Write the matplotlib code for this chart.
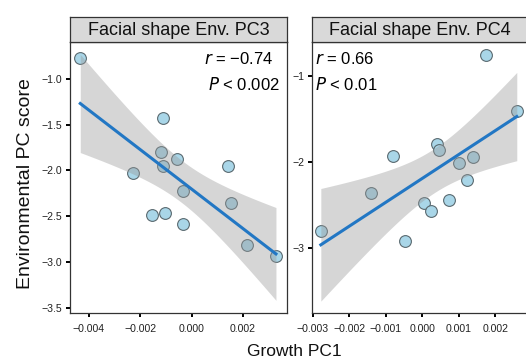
import numpy as np
import matplotlib
matplotlib.use("Agg")
import matplotlib.pyplot as plt
from matplotlib.ticker import FixedLocator, FixedFormatter

plt.rcParams["font.family"] = ["Liberation Sans", "DejaVu Sans"]

# Growth PC1 vs environmental PC scores
pc3_growth = [-0.00434, -0.00111, -0.00120, -0.00058, -0.00111, 0.00140, -0.00230,
              -0.00034, 0.00152, -0.00155, -0.00104, -0.00035, 0.00214, 0.00328]
pc3_env = [-0.77, -1.43, -1.80, -1.88, -1.95, -1.95, -2.03,
           -2.22, -2.36, -2.49, -2.46, -2.58, -2.81, -2.93]

pc4_growth = [0.00176, 0.00259, 0.00039, 0.00046, -0.00081, 0.00138, 0.00101,
              0.00123, -0.00141, 0.00004, 0.00023, 0.00073, -0.00278, -0.00047]
pc4_env = [-0.76, -1.41, -1.79, -1.86, -1.93, -1.94, -2.02,
           -2.21, -2.36, -2.48, -2.57, -2.45, -2.81, -2.92]

panel_titles = ["Facial shape Env. PC3", "Facial shape Env. PC4"]
r_labels = ["$r$ = \u22120.74", "$r$ = 0.66"]
p_labels = ["$P$ < 0.002", "$P$ < 0.01"]

pc3_xticks = [-0.004, -0.002, 0.000, 0.002]
pc3_xlabels = ["\u22120.004", "\u22120.002", "0.000", "0.002"]
pc3_yticks = [-1.0, -1.5, -2.0, -2.5, -3.0, -3.5]
pc3_ylabels = ["\u22121.0", "\u22121.5", "\u22122.0", "\u22122.5", "\u22123.0", "\u22123.5"]

pc4_xticks = [-0.003, -0.002, -0.001, 0.000, 0.001, 0.002]
pc4_xlabels = ["\u22120.003", "\u22120.002", "\u22120.001", "0.000", "0.001", "0.002"]
pc4_yticks = [-1, -2, -3]
pc4_ylabels = ["\u22121", "\u22122", "\u22123"]

T_CRIT = 2.179  # t(0.975, df = 12)

W, H = 526, 361
fig = plt.figure(figsize=(W / 100, H / 100), dpi=100)


def box(x0, x1, y0, y1):
    return [x0 / W, 1 - y1 / H, (x1 - x0) / W, (y1 - y0) / H]


def fit_band(x, y, n_grid=80):
    x = np.asarray(x)
    y = np.asarray(y)
    n = len(x)
    b, a = np.polyfit(x, y, 1)
    resid = y - (a + b * x)
    s = np.sqrt(np.sum(resid ** 2) / (n - 2))
    xg = np.linspace(x.min(), x.max(), n_grid)
    se = s * np.sqrt(1 / n + (xg - x.mean()) ** 2 / np.sum((x - x.mean()) ** 2))
    yg = a + b * xg
    return xg, yg, yg - T_CRIT * se, yg + T_CRIT * se


def panel(rect, strip_rect, x, y, title, xlim, ylim, xt, xl, yt, yl, ysize):
    ax = fig.add_axes(rect)
    ax.scatter(x, y, s=72, facecolor="#a9d6e8", edgecolor="#5a6a70",
               linewidth=0.8, zorder=2)
    xg, yg, lo, hi = fit_band(x, y)
    ax.fill_between(xg, lo, hi, color="#999999", alpha=0.4, linewidth=0, zorder=3)
    ax.plot(xg, yg, color="#2277c4", linewidth=2.2, zorder=4)
    ax.set_xlim(*xlim)
    ax.set_ylim(*ylim)
    ax.xaxis.set_major_locator(FixedLocator(xt))
    ax.xaxis.set_major_formatter(FixedFormatter(xl))
    ax.yaxis.set_major_locator(FixedLocator(yt))
    ax.yaxis.set_major_formatter(FixedFormatter(yl))
    ax.tick_params(axis="x", length=3, width=1.4, color="black", pad=5,
                   labelsize=7.6, labelcolor="#222222")
    ax.tick_params(axis="y", length=3, width=1.4, color="black", pad=2.5,
                   labelsize=ysize, labelcolor="#222222")
    for sp in ax.spines.values():
        sp.set_color("#333333")
        sp.set_linewidth(0.9)
    sx = fig.add_axes(strip_rect)
    sx.set_xticks([])
    sx.set_yticks([])
    sx.set_facecolor("#d9d9d9")
    for sp in sx.spines.values():
        sp.set_color("#333333")
        sp.set_linewidth(0.9)
    sx.text(0.5, 0.47, title, ha="center", va="center", fontsize=13,
            color="#111111", transform=sx.transAxes)
    return ax


ax1 = panel(box(70, 287, 42, 313), box(70, 287, 16.7, 42),
            pc3_growth, pc3_env, panel_titles[0],
            (-0.00474, 0.00371), (-3.558, -0.596),
            pc3_xticks, pc3_xlabels, pc3_yticks, pc3_ylabels, 7.6)
ax2 = panel(box(311.7, 527, 42, 313), box(311.7, 527, 16.7, 42),
            pc4_growth, pc4_env, panel_titles[1],
            (-0.00303, 0.00287), (-3.759, -0.608),
            pc4_xticks, pc4_xlabels, pc4_yticks, pc4_ylabels, 7.6)

fig.text(273 / W, 1 - 59 / H, r_labels[0], ha="right", va="center", fontsize=12)
fig.text(280 / W, 1 - 85 / H, p_labels[0], ha="right", va="center", fontsize=12)
fig.text(315 / W, 1 - 59 / H, r_labels[1], ha="left", va="center", fontsize=12)
fig.text(315 / W, 1 - 85 / H, p_labels[1], ha="left", va="center", fontsize=12)

fig.text(25.5 / W, 1 - 183.5 / H, "Environmental PC score", rotation=90,
         ha="center", va="center", fontsize=14, color="#111111")
fig.text(294.5 / W, 1 - 351 / H, "Growth PC1", ha="center", va="center",
         fontsize=12.5, color="#111111")

fig.savefig("out.png", dpi=100)
